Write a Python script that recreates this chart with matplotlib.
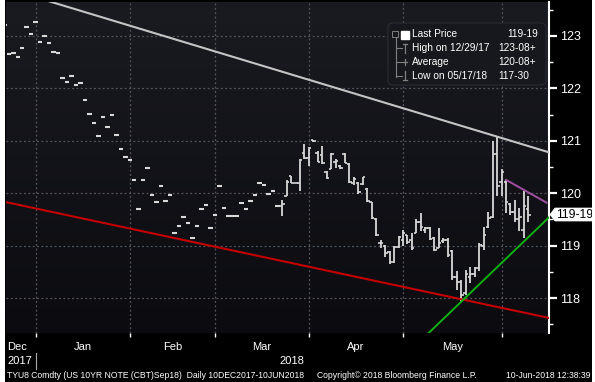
import numpy as np
import pandas as pd
import matplotlib
matplotlib.use('Agg')
import matplotlib.pyplot as plt
from matplotlib.patches import FancyBboxPatch, Rectangle, Polygon
from matplotlib.lines import Line2D
from matplotlib.colors import LinearSegmentedColormap

plt.rcParams['font.family'] = ['Liberation Sans', 'DejaVu Sans']

# trading days (CBT holidays removed)
holidays = ['2017-12-25', '2018-01-01', '2018-01-15', '2018-02-19', '2018-03-30', '2018-05-28']
dates = pd.bdate_range('2017-12-19', '2018-06-08')
dates = dates[~dates.isin(pd.to_datetime(holidays))]

# thin early trading: one print per day (open=high=low=close)
early_px = [123.20, 122.66, 122.67, 122.60, 122.77, 123.17, 123.04, 123.265625,
            122.88, 122.99, 122.87, 122.70, 122.67, 122.20, 122.12, 122.24,
            122.06, 122.11, 121.77, 121.51, 121.33, 121.10, 121.46, 121.26,
            121.50, 121.12, 120.85, 120.69, 120.63, 120.25, 119.69, 120.26,
            120.49, 119.96, 119.84, 120.14, 119.86, 119.96, 119.25, 119.38,
            119.55, 119.44, 119.14, 119.37, 119.70, 119.78, 119.33, 119.58,
            120.14, 119.72, 119.57, 119.57, 119.57, 119.81, 119.69, 119.85,
            119.97, 120.20, 120.15, 119.99, 120.05, 119.75]

# active contract, OHLC
late_open = [119.75, 119.95, 120.32, 120.19, 120.19, 120.77, 120.67, 121.01,
             120.77, 120.73, 120.40, 120.47, 120.59, 120.52, 120.74, 120.56,
             120.20, 120.20, 120.18, 120.08, 119.84, 119.51, 119.05, 118.99,
             118.88, 118.68, 118.97, 119.10, 119.20, 119.10, 119.24, 119.45,
             119.30, 119.34, 119.15, 118.96, 119.08, 119.10, 118.90, 118.40,
             118.30, 118.10, 118.40, 118.45, 118.58, 119.00, 119.35, 119.55,
             120.75, 120.22, 120.22, 119.80, 119.65, 119.50, 119.30, 119.70]
late_high = [119.87, 120.25, 120.32, 120.19, 120.65, 120.94, 120.89, 121.02,
             120.81, 120.90, 120.42, 120.77, 120.66, 120.54, 120.76, 120.57,
             120.30, 120.22, 120.31, 120.09, 119.84, 119.52, 119.11, 119.02,
             118.90, 118.99, 119.19, 119.30, 119.20, 119.24, 119.50, 119.63,
             119.36, 119.35, 119.17, 119.33, 119.15, 119.15, 118.92, 118.51,
             118.35, 118.54, 118.60, 118.60, 119.05, 119.36, 119.65, 120.99,
             121.09, 120.46, 120.25, 119.82, 119.87, 119.71, 120.04, 119.94]
late_low = [119.56, 119.95, 120.19, 120.19, 120.05, 120.66, 120.52, 120.98,
            120.59, 120.56, 120.27, 120.46, 120.48, 120.46, 120.57, 120.20,
            120.16, 119.99, 120.16, 119.84, 119.50, 119.19, 118.95, 118.79,
            118.65, 118.67, 118.95, 119.00, 119.03, 118.92, 119.24, 119.27,
            119.24, 119.10, 118.89, 118.95, 119.05, 118.79, 118.35, 118.16,
            117.9375, 118.06, 118.28, 118.41, 118.51, 118.92, 119.33, 119.52,
            119.94, 119.94, 119.62, 119.59, 119.46, 119.27, 119.14, 119.46]
late_close = [119.80, 120.22, 120.19, 120.19, 120.63, 120.67, 120.87, 120.99,
              120.60, 120.57, 120.29, 120.75, 120.62, 120.48, 120.58, 120.22,
              120.28, 120.02, 120.30, 119.85, 119.52, 119.20, 119.05, 118.85,
              118.68, 118.97, 119.16, 119.25, 119.06, 118.95, 119.46, 119.35,
              119.34, 119.12, 118.92, 119.05, 119.10, 118.82, 118.40, 118.30,
              118.05, 118.46, 118.45, 118.58, 119.02, 119.20, 119.52, 120.75,
              120.14, 120.41, 119.84, 119.65, 119.50, 119.55, 119.75, 119.59375]

# trend lines drawn on the chart (bar index, price)
white_x, white_y = [0.37, 121.6], [123.91, 120.78]
red_x, red_y = [0.37, 121.6], [119.83, 117.62]
green_x, green_y = [94.7, 121.6], [117.33, 119.54]
purple_x, purple_y = [112.0, 121.06], [120.255, 119.82]

month_names = ['Dec', 'Jan', 'Feb', 'Mar', 'Apr', 'May']
legend_labels = ['Last Price', 'High on 12/29/17', 'Average', 'Low on 05/17/18']
legend_values = ['119-19', '123-08+', '120-08+', '117-30']

W, H = 595, 382
fig = plt.figure(figsize=(W / 100, H / 100), dpi=100)
fig.patch.set_facecolor('black')

def fx(px):
    return px / W

def fy(py):
    return 1 - py / H

ax_l, ax_r, ax_t, ax_b = 6, 549, 2, 333
ax = fig.add_axes([fx(ax_l), fy(ax_b), fx(ax_r - ax_l), (ax_b - ax_t) / H])
ax.set_xlim(0.37, 121.6)
ax.set_ylim(117.333, 123.648)

# dark gradient plot background
cmap = LinearSegmentedColormap.from_list('bg', ['#1a1b21', '#0b0b10'])
ax.imshow(np.linspace(0, 1, 256).reshape(-1, 1), cmap=cmap, aspect='auto',
          extent=[0, 1, 0, 1], transform=ax.transAxes, zorder=0)

idx = np.arange(len(dates))
n_early = len(early_px)
ie = idx[:n_early]
il = idx[n_early:]

bar_col = '#d8d8d8'
ax.hlines(early_px, ie - 0.5, ie + 0.5, color=bar_col, lw=1.5, zorder=3)
ax.vlines(il, late_low, late_high, color=bar_col, lw=1.3, zorder=3)
ax.hlines(late_open, il - 0.55, il, color=bar_col, lw=1.2, zorder=3)
ax.hlines(late_close, il, il + 0.55, color=bar_col, lw=1.2, zorder=3)

ax.plot(white_x, white_y, color='#c4c4c4', lw=1.5, zorder=4)
ax.plot(red_x, red_y, color='#c40000', lw=1.5, zorder=4)
ax.plot(green_x, green_y, color='#10b010', lw=1.4, zorder=4)
ax.plot(purple_x, purple_y, color='#a050a0', lw=1.4, zorder=4)

# month boundaries = last trading day of each month
s = pd.Series(idx, index=dates)
month_end = s.groupby(dates.to_period('M')).max().values[:-1]
grid_kw = dict(color='#55565c', lw=0.9, ls=(0, (1.5, 2)), zorder=1)
for m in month_end:
    ax.axvline(m, **grid_kw)
for p in range(118, 124):
    ax.axhline(p, **grid_kw)

ax.set_xticks(month_end)
ax.set_xticklabels([])
ax.tick_params(axis='x', colors='white', length=3, width=1, direction='out')
ax.yaxis.tick_right()
ax.set_yticks(range(118, 124))
ax.set_yticks(np.arange(117.5, 123.6, 1.0), minor=True)
ax.set_yticklabels([str(p) for p in range(118, 124)])
ax.tick_params(axis='y', which='major', colors='white', length=6, width=1.6,
               labelsize=9, pad=2)
ax.tick_params(axis='y', which='minor', colors='white', length=3, width=1)
for side in ['left', 'top', 'bottom']:
    ax.spines[side].set_visible(False)
ax.spines['right'].set_color('white')
ax.spines['right'].set_linewidth(1.5)

# month labels
mid = [(month_end[k] + month_end[k + 1]) / 2 for k in range(len(month_end) - 1)]
mid.append((month_end[-1] + idx[-1] + 4) / 2)
fig.text(fx(7), fy(347), month_names[0], color='white', fontsize=8, va='center')
for name, m in zip(month_names[1:], mid):
    ax.text(m, -0.042, name, color='white', fontsize=8, ha='center', va='center',
            transform=ax.get_xaxis_transform())
fig.text(fx(7), fy(361), '2017', color='white', fontsize=8, va='center')
fig.add_artist(Line2D([fx(36), fx(36)], [fy(353), fy(369)], color='#aaaaaa', lw=0.8))
fig.text(fx(292), fy(361), '2018', color='white', fontsize=8, ha='center', va='center')

# footer
foot = dict(color='white', fontsize=6.2, va='center')
fig.text(fx(7), fy(375), 'TYU8 Comdty (US 10YR NOTE (CBT)Sep18)  Daily 10DEC2017-10JUN2018', **foot)
fig.text(fx(317), fy(375), 'Copyright\u00a9 2018 Bloomberg Finance L.P.', **foot)
fig.text(fx(590), fy(375), '10-Jun-2018 12:38:39', ha='right', **foot)

# last price tag
tag_y = fy(ax_b) + (late_close[-1] - 117.333) / (123.648 - 117.333) * (ax_b - ax_t) / H
tag_h = 6.5 / H
fig.add_artist(Polygon([(fx(550), tag_y), (fx(555), tag_y + tag_h), (fx(592), tag_y + tag_h),
                        (fx(592), tag_y - tag_h), (fx(555), tag_y - tag_h)],
                       closed=True, fc='white', ec='white', lw=0.5, zorder=8))
fig.text(fx(556), tag_y, legend_values[0], color='black', fontsize=8.8, va='center',
         ha='left', zorder=9)

# legend box
fig.add_artist(FancyBboxPatch((fx(388), fy(85)), fx(158), (85 - 23) / H,
                              boxstyle='round,pad=0,rounding_size=0.01',
                              fc='#17181d', ec='#2a2b30', lw=0.8, zorder=5))
row_y = [34, 48, 62, 76]
val_x = [507, 498, 498, 498]
gray = '#808080'
fig.add_artist(Line2D([fx(396), fx(396)], [fy(38), fy(77)], color=gray, lw=0.8, zorder=6))
for yy in row_y[1:]:
    fig.add_artist(Line2D([fx(396), fx(402)], [fy(yy), fy(yy)], color=gray, lw=0.8, zorder=6))
fig.add_artist(Rectangle((fx(392), fy(37)), fx(6), 6 / H, fc='none', ec=gray, lw=0.7, zorder=6))
fig.add_artist(Rectangle((fx(401), fy(39)), fx(8), 8 / H, fc='white', ec='white', zorder=6))
# high / avg / low markers
for seg in [((405, 405), (44, 53)), ((403, 407), (44, 44)), ((403, 407), (62, 62)),
            ((405, 405), (59, 65)), ((405, 405), (71, 80)), ((403, 407), (80, 80))]:
    fig.add_artist(Line2D([fx(seg[0][0]), fx(seg[0][1])], [fy(seg[1][0]), fy(seg[1][1])],
                          color=gray, lw=0.9, zorder=6))
for lab, val, vx, yy in zip(legend_labels, legend_values, val_x, row_y):
    fig.text(fx(412), fy(yy), lab, color='white', fontsize=7.3, va='center', zorder=7)
    fig.text(fx(vx), fy(yy), val, color='white', fontsize=7.3, va='center', zorder=7)

# white frame edges
fig.add_artist(Rectangle((0, 0), fx(5), 1, fc='white', ec='none', zorder=10))
fig.add_artist(Rectangle((fx(592), 0), fx(3), 1, fc='white', ec='none', zorder=10))

fig.savefig('out.png', dpi=100, facecolor='black')
